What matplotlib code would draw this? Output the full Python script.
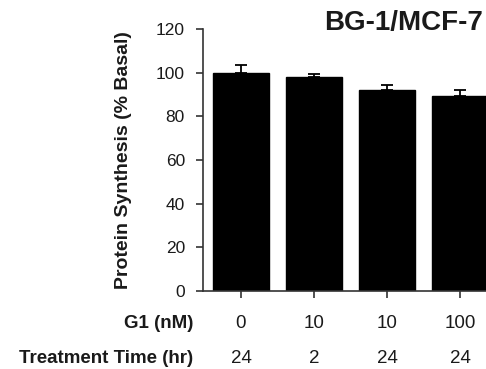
import matplotlib
matplotlib.use("Agg")
import matplotlib.pyplot as plt
from matplotlib.transforms import blended_transform_factory

plt.rcParams["font.family"] = ["Liberation Sans", "DejaVu Sans"]

g1_labels = ["0", "10", "10", "100"]
time_labels = ["24", "2", "24", "24"]
values = [100, 98.2, 92.1, 89.5]
errors = [3.4, 1.2, 2.4, 2.7]

txt = "#1a1a1a"
fig = plt.figure(figsize=(4.86, 3.69), dpi=100)
ax = fig.add_axes([0.4177, 0.2114, 0.607, 0.71])

x = list(range(len(values)))
ax.bar(x, values, width=0.767, color="black", edgecolor="black", zorder=2)
ax.errorbar(x, values, yerr=[[0] * len(values), errors], fmt="none",
            ecolor="black", elinewidth=1.3, capsize=4.5, capthick=1.3, zorder=1)

ax.set_xlim(-0.52, 3.52)
ax.set_ylim(0, 120)
ax.set_yticks(range(0, 121, 20))
ax.set_xticks(x)
ax.set_xticklabels([])
ax.tick_params(axis="y", labelsize=12.5, length=5, width=1.2, colors="#333333",
               labelcolor=txt, pad=8)
ax.tick_params(axis="x", length=5, width=1.2, colors="#333333")
for s in ["top", "right"]:
    ax.spines[s].set_visible(False)
for s in ["left", "bottom"]:
    ax.spines[s].set_linewidth(1.2)
    ax.spines[s].set_color("#333333")

ax.set_ylabel("Protein Synthesis (% Basal)", fontsize=14, fontweight="bold",
              color=txt, labelpad=17)

tr = blended_transform_factory(ax.transData, fig.transFigure)
for i in x:
    ax.text(i, 0.1220, g1_labels[i], transform=tr, ha="center", va="center",
            fontsize=13.5, color=txt)
    ax.text(i, 0.0280, time_labels[i], transform=tr, ha="center", va="center",
            fontsize=13.5, color=txt)
fig.text(0.397, 0.1220, "G1 (nM)", ha="right", va="center", fontsize=13.5,
         fontweight="bold", color=txt)
fig.text(0.397, 0.0280, "Treatment Time (hr)", ha="right", va="center",
         fontsize=13.5, fontweight="bold", color=txt)

fig.text(0.994, 0.9377, "BG-1/MCF-7", ha="right", va="center", fontsize=20,
         fontweight="bold", color=txt)

fig.savefig("out.png", dpi=100)
